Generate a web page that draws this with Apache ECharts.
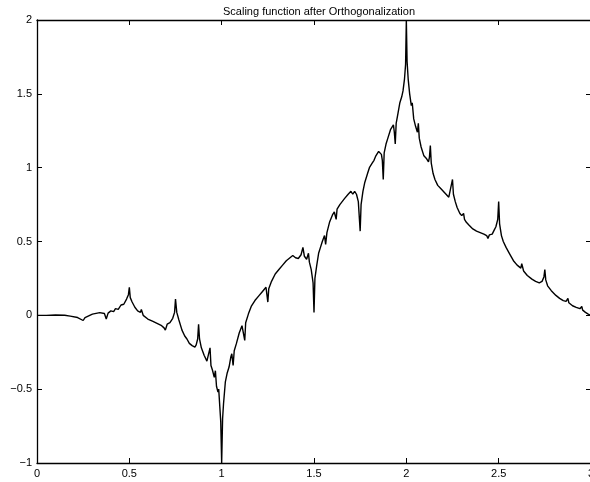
<!DOCTYPE html>
<html><head><meta charset="utf-8">
<script src="https://cdn.jsdelivr.net/npm/echarts@6/dist/echarts.min.js"></script>
<style>html,body{margin:0;padding:0;background:#fff}#c{width:590px;height:482px}</style>
</head><body><div id="c"></div>
<script>
const titleText = "Scaling function after Orthogonalization";
const xTicks = [0, 0.5, 1, 1.5, 2, 2.5, 3];
const yTicks = [-1, -0.5, 0, 0.5, 1, 1.5, 2];
const xs = [0,0.05,0.10,0.15,0.18,0.22,0.25,0.26,0.30,0.34,0.365,0.375,0.385,0.40,0.415,0.425,0.44,0.455,0.47,0.485,0.495,0.50,0.505,0.515,0.53,0.545,0.56,0.565,0.575,0.60,0.625,0.65,0.675,0.688,0.695,0.705,0.72,0.735,0.745,0.75,0.757,0.768,0.785,0.80,0.812,0.825,0.84,0.855,0.862,0.87,0.875,0.88,0.89,0.905,0.92,0.93,0.937,0.942,0.95,0.96,0.966,0.972,0.98,0.984,0.99,0.995,1.0,1.005,1.01,1.02,1.03,1.04,1.05,1.055,1.062,1.068,1.08,1.095,1.11,1.12,1.125,1.13,1.145,1.16,1.18,1.2,1.22,1.24,1.25,1.255,1.27,1.29,1.31,1.33,1.35,1.37,1.385,1.40,1.415,1.43,1.44,1.448,1.46,1.47,1.475,1.485,1.495,1.50,1.505,1.515,1.525,1.535,1.545,1.557,1.563,1.57,1.584,1.60,1.61,1.62,1.625,1.64,1.665,1.685,1.70,1.71,1.72,1.73,1.74,1.75,1.755,1.765,1.775,1.79,1.80,1.815,1.825,1.835,1.85,1.865,1.87,1.875,1.88,1.89,1.90,1.915,1.93,1.935,1.94,1.945,1.955,1.965,1.975,1.982,1.99,1.996,2.0,2.004,2.01,2.018,2.027,2.032,2.04,2.05,2.06,2.065,2.07,2.08,2.095,2.11,2.12,2.125,2.13,2.135,2.145,2.155,2.17,2.185,2.2,2.215,2.23,2.24,2.25,2.255,2.265,2.275,2.29,2.3,2.31,2.315,2.325,2.34,2.36,2.38,2.40,2.42,2.435,2.442,2.45,2.465,2.475,2.485,2.495,2.50,2.505,2.515,2.525,2.54,2.56,2.58,2.6,2.62,2.625,2.635,2.655,2.68,2.7,2.72,2.735,2.745,2.75,2.755,2.765,2.785,2.81,2.83,2.85,2.865,2.875,2.88,2.9,2.92,2.94,2.95,2.955,2.97,2.985,3.0];
const ys = [0,0.0,0.002,0.001,-0.005,-0.015,-0.035,-0.015,0.008,0.018,0.012,-0.025,0.015,0.03,0.025,0.045,0.04,0.07,0.075,0.11,0.14,0.19,0.12,0.09,0.055,0.03,0.02,0.04,0.0,-0.025,-0.04,-0.055,-0.07,-0.085,-0.10,-0.06,-0.05,-0.02,0.02,0.11,0.02,-0.03,-0.10,-0.14,-0.16,-0.19,-0.205,-0.215,-0.2,-0.16,-0.06,-0.16,-0.22,-0.27,-0.31,-0.32,-0.22,-0.34,-0.37,-0.42,-0.375,-0.48,-0.52,-0.5,-0.62,-0.72,-1.0,-0.7,-0.6,-0.45,-0.39,-0.35,-0.28,-0.26,-0.34,-0.24,-0.19,-0.12,-0.07,-0.06,-0.17,-0.05,0.01,0.06,0.1,0.13,0.16,0.19,0.09,0.18,0.23,0.28,0.31,0.34,0.37,0.39,0.405,0.39,0.385,0.41,0.46,0.40,0.38,0.42,0.36,0.31,0.22,0.02,0.25,0.34,0.42,0.46,0.5,0.54,0.48,0.56,0.63,0.68,0.70,0.65,0.72,0.75,0.79,0.82,0.84,0.82,0.84,0.82,0.77,0.57,0.75,0.84,0.9,0.96,1.0,1.03,1.05,1.08,1.11,1.09,1.05,0.92,1.1,1.16,1.2,1.26,1.29,1.24,1.16,1.3,1.37,1.44,1.48,1.52,1.6,1.7,2.0,1.72,1.6,1.5,1.42,1.44,1.33,1.28,1.24,1.3,1.2,1.14,1.08,1.06,1.04,1.07,1.15,1.03,0.96,0.92,0.88,0.86,0.84,0.82,0.80,0.81,0.92,0.82,0.77,0.73,0.69,0.675,0.69,0.65,0.63,0.61,0.585,0.57,0.56,0.55,0.54,0.52,0.545,0.55,0.575,0.6,0.65,0.77,0.62,0.54,0.5,0.46,0.415,0.37,0.34,0.32,0.35,0.3,0.27,0.245,0.23,0.22,0.23,0.26,0.31,0.24,0.2,0.167,0.135,0.115,0.1,0.095,0.115,0.085,0.065,0.054,0.045,0.06,0.035,0.02,0.008,0];

const data = xs.map((x, i) => [x, ys[i]]);
const fmt = v => (v < 0 ? '\u2212' + String(-v) : String(v));
const font = 'Liberation Sans, Arial, Helvetica, sans-serif';
const chart = echarts.init(document.getElementById('c'), null, {renderer: 'canvas'});
const baseX = {
  type: 'value', min: xTicks[0], max: xTicks[xTicks.length - 1], interval: 0.5,
  axisLine: {show: true, onZero: false, lineStyle: {color: '#000', width: 1.3}},
  axisTick: {show: true, inside: true, length: 5, lineStyle: {color: '#000'}},
  splitLine: {show: false}
};
const baseY = {
  type: 'value', min: yTicks[0], max: yTicks[yTicks.length - 1], interval: 0.5,
  axisLine: {show: true, onZero: false, lineStyle: {color: '#000', width: 1.3}},
  axisTick: {show: true, inside: true, length: 5, lineStyle: {color: '#000'}},
  splitLine: {show: false}
};
chart.setOption({
  animation: false,
  backgroundColor: '#fff',
  title: {text: titleText, left: 314, top: 1, textAlign: 'center',
    textStyle: {fontFamily: font, fontSize: 11, fontWeight: 'normal', color: '#000'}},
  grid: {left: 37, top: 20, width: 554, height: 443, containLabel: false, outerBoundsMode: 'none'},
  xAxis: [
    Object.assign({}, baseX, {position: 'bottom',
      axisLabel: {show: true, margin: 5, fontFamily: font, fontSize: 11, color: '#000', formatter: fmt}}),
    Object.assign({}, baseX, {position: 'top', axisLabel: {show: false}})
  ],
  yAxis: [
    Object.assign({}, baseY, {position: 'left',
      axisLabel: {show: true, margin: 5, fontFamily: font, fontSize: 11, color: '#000', formatter: fmt}}),
    Object.assign({}, baseY, {position: 'right', axisLabel: {show: false}})
  ],
  series: [{
    type: 'line', data: data, xAxisIndex: 0, yAxisIndex: 0,
    showSymbol: false, symbol: 'none', smooth: false,
    lineStyle: {color: '#000', width: 1.4}
  }]
});
</script></body></html>
